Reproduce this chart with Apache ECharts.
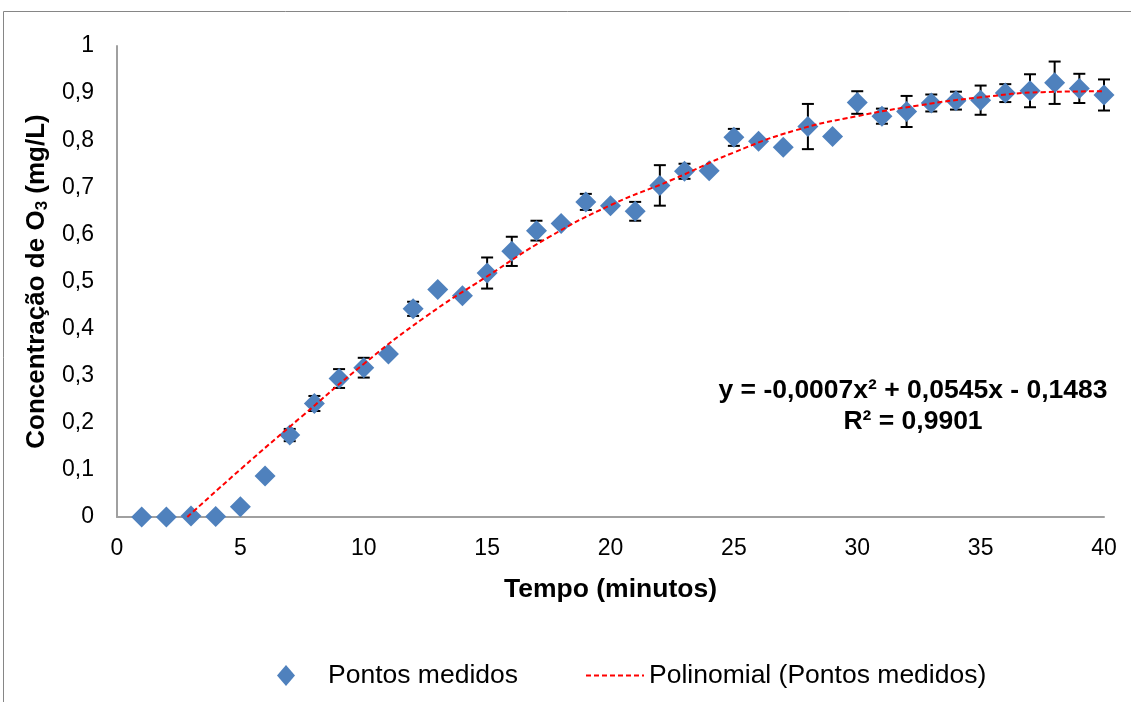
<!DOCTYPE html>
<html>
<head>
<meta charset="utf-8">
<script src="https://cdn.jsdelivr.net/npm/echarts@6/dist/echarts.min.js"></script>
<style>html,body{margin:0;padding:0;background:#fff}#c{width:1131px;height:702px}</style>
</head>
<body>
<div id="c"></div>
<script>
// Measured points: time (min), concentration (mg/L), error (±)
const times = [1,2,3,4,5,6,7,8,9,10,11,12,13,14,15,16,17,18,19,20,21,22,23,24,25,26,27,28,29,30,31,32,33,34,35,36,37,38,39,40];
const values = [0,0,0.002,0.001,0.022,0.087,0.174,0.241,0.294,0.317,0.346,0.442,0.483,0.470,0.518,0.564,0.608,0.623,0.669,0.661,0.649,0.704,0.734,0.735,0.806,0.798,0.785,0.829,0.808,0.880,0.851,0.861,0.879,0.884,0.885,0.900,0.905,0.922,0.910,0.896];
const errors = [0,0,0,0,0,0,0.013,0.016,0.020,0.021,0,0.015,0,0,0.033,0.031,0.021,0,0.017,0,0.020,0.043,0.016,0,0.018,0,0,0.048,0,0.024,0.016,0.033,0.018,0.019,0.031,0.019,0.035,0.045,0.031,0.033];
// Trendline
const trendX = [2.85,5,7.5,10,12.5,15,17.5,20,22.5,25,27.5,30,32.5,35,37.5,40];
const trendY = [0,0.101,0.214,0.325,0.425,0.511,0.594,0.662,0.716,0.774,0.821,0.851,0.874,0.891,0.902,0.904];
const xTicks = {min:0, max:40, interval:5};
const yTicks = {min:0, max:1, interval:0.1};
const equationText = 'y = -0,0007x² + 0,0545x - 0,1483\nR² = 0,9901';

const FONT = "'Liberation Sans', Arial, sans-serif";
const scatterData = times.map((t,i)=>[t, values[i]]);
const errData = times.map((t,i)=>[t, values[i], errors[i]]);
const trendData = trendX.map((x,i)=>[x, trendY[i]]);

const chart = echarts.init(document.getElementById('c'));
chart.setOption({
  animation:false,
  backgroundColor:'#fff',
  grid:{left:117, right:27, top:46, bottom:185, containLabel:false},
  xAxis:{
    type:'value', min:xTicks.min, max:xTicks.max, interval:xTicks.interval,
    name:'Tempo (minutos)', nameLocation:'middle', nameGap:59,
    nameTextStyle:{fontFamily:FONT, fontSize:26.5, fontWeight:'bold', color:'#000'},
    axisLine:{show:true, lineStyle:{color:'#a0a0a0', width:2}},
    axisTick:{show:false}, splitLine:{show:false},
    axisLabel:{fontFamily:FONT, fontSize:23, color:'#000', margin:20}
  },
  yAxis:{
    type:'value', min:yTicks.min, max:yTicks.max, interval:yTicks.interval,
    name:'{b|Concentração de O}{s|3}{b| (mg/L)}', nameLocation:'middle', nameGap:66,
    nameTextStyle:{
      rich:{
        b:{fontFamily:FONT, fontSize:26, fontWeight:'bold', color:'#000'},
        s:{fontFamily:FONT, fontSize:17, fontWeight:'bold', color:'#000', padding:[12,0,0,0]}
      }
    },
    axisLine:{show:true, lineStyle:{color:'#a0a0a0', width:2}},
    axisTick:{show:false}, splitLine:{show:false},
    axisLabel:{fontFamily:FONT, fontSize:23, color:'#000', margin:23,
      formatter:v=>String(Math.round(v*10)/10).replace('.',',')}
  },
  legend:[
    {data:['Pontos medidos'], left:272, top:657, itemWidth:18, itemHeight:21,
     textStyle:{fontFamily:FONT, fontSize:26.5, color:'#000', padding:[0,0,0,28]}},
    {data:['Polinomial (Pontos medidos)'], left:580, top:657, itemWidth:58, itemHeight:21,
     itemStyle:{opacity:0},
     textStyle:{fontFamily:FONT, fontSize:26.5, color:'#000'}}
  ],
  graphic:[
    {type:'rect', silent:true, shape:{x:3.5, y:11.5, width:1140, height:700},
     style:{fill:'none', stroke:'#868686', lineWidth:1}},
    {type:'text', x:913, y:406, silent:true,
     style:{text:equationText, fontFamily:FONT, fontSize:26.5, fontWeight:'bold', fill:'#000',
            align:'center', verticalAlign:'middle', lineHeight:31}}
  ],
  series:[
    {
      type:'custom', name:'err', z:2, silent:true,
      data:errData,
      renderItem:function(params, api){
        const e = api.value(2);
        if(!e) return null;
        const x = api.value(0), y = api.value(1);
        const top = api.coord([x, y+e]);
        const bot = api.coord([x, y-e]);
        const hw = 6;
        const st = {stroke:'#000', lineWidth:2};
        return {type:'group', children:[
          {type:'line', shape:{x1:top[0], y1:top[1], x2:bot[0], y2:bot[1]}, style:st},
          {type:'line', shape:{x1:top[0]-hw, y1:top[1], x2:top[0]+hw, y2:top[1]}, style:st},
          {type:'line', shape:{x1:bot[0]-hw, y1:bot[1], x2:bot[0]+hw, y2:bot[1]}, style:st}
        ]};
      }
    },
    {
      type:'scatter', name:'Pontos medidos', z:3,
      symbol:'diamond', symbolSize:21,
      itemStyle:{color:'#4F81BD', opacity:1},
      data:scatterData
    },
    {
      type:'line', name:'Polinomial (Pontos medidos)', z:4,
      smooth:true, symbol:'none', showSymbol:false,
      lineStyle:{color:'#FF0000', width:2, type:[5,3]},
      itemStyle:{color:'#FF0000'},
      data:trendData
    }
  ]
});
</script>
</body>
</html>
